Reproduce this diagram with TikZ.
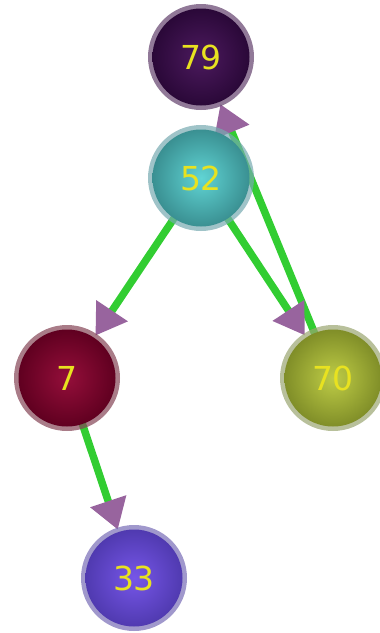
\documentclass[tikz,border=0pt]{standalone}
\usepackage{fontspec}
\setmainfont{DejaVu Sans}
\usetikzlibrary{arrows.meta}
\pgfdeclarelayer{background}
\pgfsetlayers{background,main}
\definecolor{edgegreen}{RGB}{50,205,50}
\definecolor{tipmauve}{RGB}{152,100,158}
\definecolor{labelyellow}{RGB}{232,226,32}
% halo, centre and rim colours of each vertex
\definecolor{haloA}{RGB}{98,64,108}
\definecolor{innerA}{RGB}{76,26,94}
\definecolor{outerA}{RGB}{42,8,56}
\definecolor{haloB}{RGB}{118,170,176}
\definecolor{innerB}{RGB}{96,212,212}
\definecolor{outerB}{RGB}{58,144,146}
\definecolor{haloC}{RGB}{132,68,86}
\definecolor{innerC}{RGB}{148,14,58}
\definecolor{outerC}{RGB}{96,0,32}
\definecolor{haloD}{RGB}{154,165,112}
\definecolor{innerD}{RGB}{190,204,70}
\definecolor{outerD}{RGB}{128,142,40}
\definecolor{haloE}{RGB}{120,108,182}
\definecolor{innerE}{RGB}{118,86,232}
\definecolor{outerE}{RGB}{80,58,176}

\begin{document}
\begin{tikzpicture}[x=1pt, y=-1pt,
    halo/.style={circle, minimum size=106pt, inner sep=0pt, outer sep=0pt, fill=halo#1, fill opacity=0.7},
    vertex/.style={circle, minimum size=97pt, inner sep=0pt, inner color=inner#1, outer color=outer#1,
        text=labelyellow, font=\fontsize{33}{33}\selectfont},
    link/.style={draw=edgegreen, line width=7.5pt, shorten >=-2pt,
        -{Triangle[length=30pt, width=36pt, color=tipmauve]}}]
    \useasboundingbox (0,0) rectangle (380,633);

    % Vertices
    \node[halo=A] (h79) at (201,57) {};
    \node[vertex=A] (n79) at (201,57) {79};
    \node[halo=B] (h52) at (201,178) {};
    \node[vertex=B] (n52) at (201,178) {52};
    \node[halo=C] (h7) at (67,378) {};
    \node[vertex=C] (n7) at (67,378) {7};
    \node[halo=D] (h70) at (333,378) {};
    \node[vertex=D] (n70) at (333,378) {70};
    \node[halo=E] (h33) at (134,578) {};
    \node[vertex=E] (n33) at (134,578) {33};

    % Edges, behind the vertices
    \begin{pgfonlayer}{background}
        \draw[link] (n70.center) -- (h79);
        \draw[link] (n52.center) -- (h7);
        \draw[link] (n52.center) -- (h70);
        \draw[link] (n7.center) -- (h33);
    \end{pgfonlayer}
\end{tikzpicture}
\end{document}
